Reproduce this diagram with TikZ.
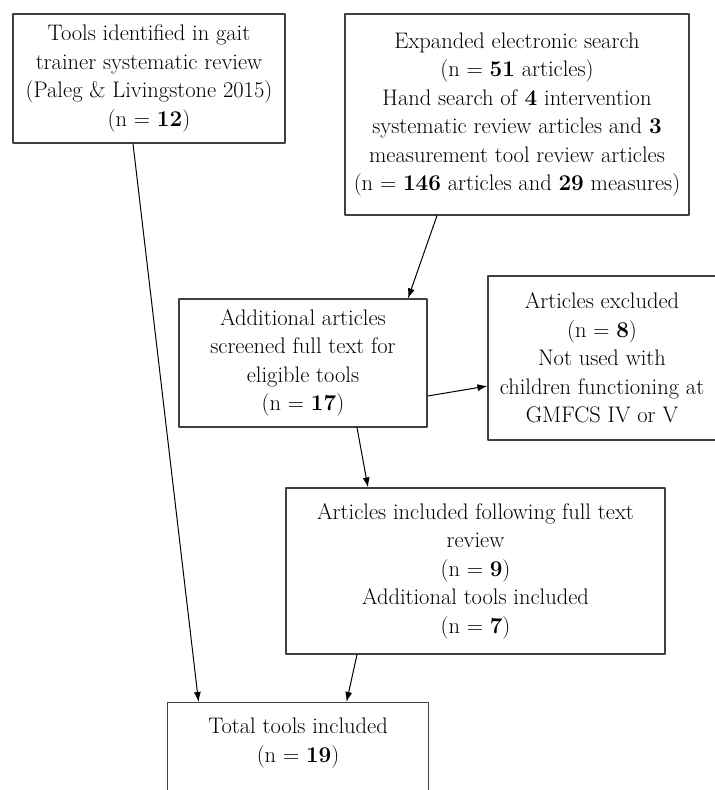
\documentclass[tikz,border=0pt]{standalone}
\usepackage{tikz}
\usetikzlibrary{arrows.meta, positioning}
\definecolor{boxgray}{HTML}{404040}

\begin{document}
\begin{tikzpicture}[x=1pt, y=-1pt, line cap=round, line join=round,
    box/.style={draw=boxgray, line width=1.1pt, align=center, inner sep=0pt, font=\fontsize{22.5}{28.5}\selectfont},
    boxtext/.style={align=center, inner sep=0pt, font=\fontsize{22.5}{28.5}\selectfont},
    arrow/.style={-{Latex[length=10pt, width=7pt]}, line width=1pt}]
  \useasboundingbox (0,0) rectangle (715,790);

  % Cajas superiores
  \node[box, minimum width=272, minimum height=129] (tools) at (149,78.5) {Tools identified in gait\\trainer systematic review\\(Paleg \& Livingstone 2015)\\(n = \textbf{12})};
  \node[box, minimum width=344, minimum height=201] (search) at (517,114.5) {Expanded electronic search\\(n = \textbf{51} articles)\\Hand search of \textbf{4} intervention\\systematic review articles and \textbf{3}\\measurement tool review articles\\(n = \textbf{146} articles and \textbf{29} measures)};

  % Cajas intermedias
  \node[box, minimum width=248, minimum height=128] (screened) at (303,363) {Additional articles\\screened full text for\\eligible tools\\(n = \textbf{17})};
  \node[box, minimum width=228, minimum height=164] (excluded) at (602,358) {Articles excluded\\(n = \textbf{8})\\Not used with\\children functioning at\\GMFCS IV or V};
  \node[box, minimum width=379, minimum height=166] (incl) at (475.5,571) {Articles included following full text\\review\\(n = \textbf{9})\\Additional tools included\\(n = \textbf{7})};

  % Caja final
  \node[box, minimum width=261, minimum height=130, anchor=north west] (total) at (167,702) {};
  \node[boxtext, below=16pt of total.north] (totaltext) {Total tools included\\(n = \textbf{19})};

  % Flechas
  \draw[arrow] ([xshift=-16pt]tools.south) -- ([xshift=-99.5pt]total.north);
  \draw[arrow] ([xshift=-80pt]search.south) -- ([xshift=105pt]screened.north);
  \draw[arrow] ([yshift=-33pt]screened.east) -- ([yshift=-28pt]excluded.west);
  \draw[arrow] ([xshift=54pt]screened.south) -- ([xshift=-107.5pt]incl.north);
  \draw[arrow] ([xshift=-118.5pt]incl.south) -- ([xshift=48.5pt]total.north);
\end{tikzpicture}
\end{document}
